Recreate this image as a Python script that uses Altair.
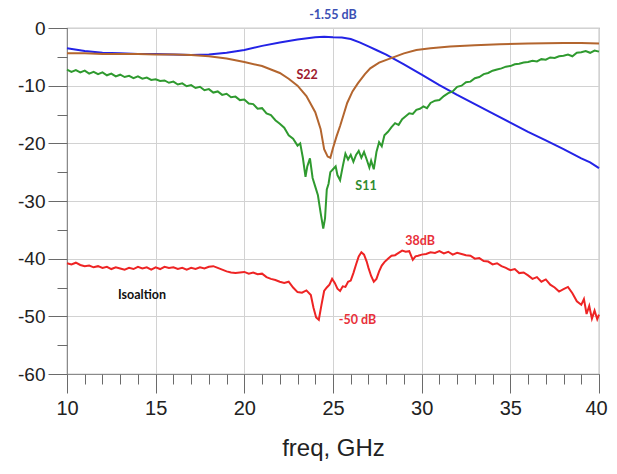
import altair as alt
import pandas as pd

# ---------------- data ----------------
s21_f = [10, 11, 12, 13, 14, 15, 16, 17, 18, 19, 20, 21, 22, 23, 24, 24.5, 25, 25.5,
         26, 26.5, 27, 27.5, 28, 29, 30, 31, 32, 33, 34, 35, 36, 37, 38, 39, 39.5, 40]
s21_v = [-3.5, -4.0, -4.3, -4.4, -4.5, -4.5, -4.6, -4.7, -4.6, -4.3, -3.8, -3.1, -2.5, -2.0, -1.6, -1.5, -1.6, -1.65,
         -1.9, -2.5, -3.2, -3.9, -4.6, -6.3, -8.1, -9.9, -11.6, -13.2, -14.8, -16.4, -18.0, -19.5, -21.0, -22.6, -23.3, -24.3]

s22_f = [10, 11, 12, 13, 14, 15, 16, 17, 18, 19, 20, 21, 21.5, 22, 22.5, 23, 23.5, 24, 24.3, 24.5,
         24.7, 24.85, 25.0, 25.2, 25.4, 25.6, 25.8, 26.1, 26.4, 26.8, 27.1, 27.6, 28.2, 29, 29.7,
         30.5, 31.6, 33, 34.4, 36, 38, 39, 40]
s22_v = [-4.4, -4.4, -4.5, -4.5, -4.5, -4.6, -4.6, -4.7, -4.9, -5.3, -5.9, -6.6, -7.2, -7.8, -8.8, -10.0, -11.8, -14.6, -17.5, -21.0,
         -22.3, -22.5, -20.8, -18.8, -17.0, -15.0, -13.0, -11.0, -9.6, -8.0, -7.0, -6.0, -5.3, -4.4, -3.8,
         -3.5, -3.2, -3.0, -2.8, -2.7, -2.6, -2.6, -2.7]

s11_f = [10.0, 10.25, 10.5, 10.75, 11.0, 11.25, 11.5, 11.75, 12.0, 12.25, 12.5, 12.75, 13.0, 13.25, 13.5, 13.75,
         14.0, 14.25, 14.5, 14.75, 15.0, 15.25, 15.5, 15.75, 16.0, 16.25, 16.5, 16.75, 17.0, 17.25, 17.5, 17.75,
         18.0, 18.25, 18.5, 18.75, 19.0, 19.25, 19.5, 19.75, 20.0, 20.25, 20.5, 20.75, 21.0, 21.25, 21.5, 21.75,
         22.0, 22.25, 22.5, 22.75, 23.0, 23.15, 23.3, 23.45, 23.55, 23.7, 23.85, 24.0, 24.15, 24.3, 24.45, 24.55,
         24.65, 24.75, 24.85, 25.0, 25.15, 25.25, 25.4, 25.55, 25.7, 25.85, 26.0, 26.15, 26.3, 26.45, 26.6, 26.75,
         26.9, 27.05, 27.15, 27.3, 27.45, 27.6, 27.75, 27.9, 28.1, 28.3, 28.5, 28.7, 28.9, 29.1, 29.3, 29.5,
         29.7, 29.9, 30.1, 30.3, 30.5, 30.75, 31.0, 31.25, 31.5, 31.75, 32.0, 32.25, 32.5, 32.75, 33.0, 33.25,
         33.5, 33.75, 34.0, 34.25, 34.5, 34.75, 35.0, 35.25, 35.5, 35.75, 36.0, 36.25, 36.5, 36.75, 37.0, 37.25,
         37.5, 37.75, 38.0, 38.25, 38.5, 38.75, 39.0, 39.25, 39.5, 39.75, 40.0]
s11_v = [-7.2, -7.6, -7.3, -7.7, -7.4, -7.9, -7.6, -8.0, -7.7, -8.2, -7.9, -8.4, -8.1, -8.5, -8.3, -8.7,
         -8.4, -8.8, -8.6, -9.0, -8.9, -9.2, -9.1, -9.5, -9.3, -9.8, -9.6, -10.1, -9.9, -10.4, -10.2, -10.8,
         -10.6, -11.2, -11.0, -11.6, -11.4, -12.0, -11.9, -12.5, -12.4, -13.1, -13.2, -14.0, -13.9, -14.8, -15.1, -16.0,
         -16.6, -17.3, -18.6, -19.2, -20.4, -20.0, -22.5, -25.8, -24.0, -22.6, -26.0, -27.5, -29.0, -32.0, -34.8, -33.0,
         -28.0, -27.0, -25.0, -24.5, -24.0, -25.5, -26.4, -24.0, -21.8, -22.8, -22.0, -23.2, -22.0, -21.3, -22.5, -21.5,
         -22.8, -24.2, -23.0, -24.5, -21.5, -19.8, -20.5, -18.6, -18.0, -17.2, -16.5, -16.8, -15.8, -15.3, -14.8, -14.9,
         -14.2, -14.0, -13.6, -13.9, -13.0, -12.6, -12.5, -11.8, -11.3, -11.0, -10.2, -10.0, -9.4, -9.3, -8.7, -8.5,
         -8.0, -7.8, -7.4, -7.2, -7.0, -6.7, -6.6, -6.3, -6.2, -6.0, -5.9, -5.7, -5.8, -5.4, -5.5, -5.1,
         -5.2, -4.9, -4.8, -4.6, -4.9, -4.3, -4.2, -4.0, -4.3, -3.9, -4.1]

iso_f = [10.0, 10.25, 10.5, 10.75, 11.0, 11.25, 11.5, 11.75, 12.0, 12.25, 12.5, 12.75, 13.0, 13.25, 13.5, 13.75,
         14.0, 14.25, 14.5, 14.75, 15.0, 15.25, 15.5, 15.75, 16.0, 16.25, 16.5, 16.75, 17.0, 17.25, 17.5, 17.75,
         18.0, 18.25, 18.5, 18.75, 19.0, 19.25, 19.5, 19.75, 20.0, 20.25, 20.5, 20.75, 21.0, 21.25, 21.5, 21.75,
         22.0, 22.25, 22.5, 22.75, 23.0, 23.25, 23.5, 23.75, 23.9, 24.05, 24.2, 24.35, 24.5, 24.65,
         24.8, 24.95, 25.1, 25.25, 25.4, 25.55, 25.7, 25.85, 26.0, 26.15, 26.3, 26.45, 26.6, 26.75,
         26.9, 27.0, 27.15, 27.3, 27.45, 27.6, 27.75, 27.9, 28.1, 28.3, 28.5, 28.7, 28.9, 29.1, 29.3, 29.5,
         29.65, 29.8, 30.0, 30.25, 30.5, 30.75, 31.0, 31.25, 31.5, 31.75, 32.0, 32.25, 32.5, 32.75, 33.0, 33.25,
         33.5, 33.75, 34.0, 34.25, 34.5, 34.75, 35.0, 35.25, 35.5, 35.75, 36.0, 36.25, 36.5, 36.75, 37.0, 37.25,
         37.5, 37.75, 38.0, 38.25, 38.5, 38.75, 39.0, 39.15, 39.3, 39.45, 39.6, 39.75, 39.9, 40.0]
iso_v = [-40.8, -41.0, -40.7, -41.1, -41.3, -41.2, -41.5, -41.3, -41.6, -41.4, -41.8, -41.5, -41.7, -41.9, -41.6, -41.8,
         -41.4, -41.7, -41.5, -41.9, -41.5, -41.8, -41.4, -41.6, -41.5, -41.8, -41.6, -41.9, -41.6, -41.8, -41.5, -41.7,
         -41.4, -41.3, -41.6, -41.9, -42.2, -42.4, -42.5, -42.4, -42.3, -42.6, -42.4, -42.7, -42.6, -43.2, -43.5, -43.7,
         -44.0, -44.2, -44.0, -45.0, -45.8, -45.9, -45.5, -46.3, -48.5, -50.2, -50.6, -48.0, -45.6, -45.0,
         -44.5, -43.5, -44.2, -45.2, -45.6, -44.8, -44.9, -44.0, -43.8, -42.5, -41.0, -39.6, -38.9, -39.3,
         -40.5, -41.6, -43.0, -44.0, -43.5, -42.2, -41.2, -40.6, -40.0, -39.5, -39.4, -39.0, -38.6, -38.8, -38.7, -40.2,
         -39.6, -39.5, -39.3, -39.2, -38.9, -39.0, -38.7, -39.1, -38.8, -39.3, -39.0, -39.2, -39.4, -39.5, -40.0, -39.9,
         -40.4, -40.5, -41.0, -40.8, -41.3, -41.6, -42.0, -41.8, -42.5, -42.4, -42.9, -43.5, -43.2, -44.0, -43.6, -44.5,
         -45.0, -45.7, -45.3, -44.9, -46.0, -47.4, -48.0, -47.0, -49.6, -48.2, -50.4, -49.0, -50.5, -49.7]

series_names = ["S11", "S22", "S21", "Isolation"]
series_colors = ["#2f9a2f", "#b3652e", "#2323e6", "#ee2424"]

ann_text = ["-1.55 dB", "S22", "S11", "Isoaltion", "38dB", "-50 dB"]
ann_f = [25.0, 23.54, 26.86, 14.23, 29.91, 26.38]
ann_v = [2.2, -8.15, -27.4, -46.3, -36.9, -50.6]
ann_color = ["#3c50b4", "#9e1a2e", "#2e8b2e", "#111111", "#e8303a", "#e8303a"]

x_major = [10, 15, 20, 25, 30, 35, 40]
x_minor = list(range(10, 41))
y_major = [0, -10, -20, -30, -40, -50, -60]
y_minor = list(range(-60, 1, 5))

# ---------------- build tables ----------------
rows = []
for name, fs, vs in [("S21", s21_f, s21_v), ("S22", s22_f, s22_v),
                     ("S11", s11_f, s11_v), ("Isolation", iso_f, iso_v)]:
    for i, (f, v) in enumerate(zip(fs, vs)):
        rows.append({"series": name, "freq": f, "dB": v, "order": i})
df = pd.DataFrame(rows)
ann = pd.DataFrame({"text": ann_text, "freq": ann_f, "dB": ann_v, "color": ann_color})

xscale = alt.Scale(domain=[10, 40], nice=False, zero=False)
yscale = alt.Scale(domain=[-60, 0], nice=False, zero=False)

axis_common = dict(domainColor="#8a8a8a", tickColor="#6a6a6a", labelColor="#222222",
                   labelFont="Liberation Sans", titleFont="Liberation Sans",
                   labelExpr="toString(datum.value)")

x_major_axis = alt.Axis(values=x_major, tickSize=19, labelFontSize=20, labelPadding=5,
                        labelOffset=alt.ExprRef("datum.value == 40 ? -3 : 0"),
                        grid=True, gridColor="#d2d2d2", orient="bottom", title="freq, GHz",
                        titleFontSize=24, titleFontWeight="normal", titleColor="#222222",
                        titlePadding=18, labelFlush=False, **axis_common)
y_major_axis = alt.Axis(values=y_major, tickSize=19, labelFontSize=19, labelPadding=3,
                        grid=True, gridColor="#d2d2d2", orient="left", title=None, **axis_common)
x_minor_axis = alt.Axis(values=x_minor, tickSize=10, labels=False, grid=False, orient="bottom",
                        title=None, domain=False, tickColor="#6a6a6a")
y_minor_axis = alt.Axis(values=y_minor, tickSize=10, labels=False, grid=False, orient="left",
                        title=None, domain=False, tickColor="#6a6a6a")

base = alt.Chart(df)
lines = base.mark_line(strokeWidth=2).encode(
    x=alt.X("freq:Q", scale=xscale, axis=x_major_axis),
    y=alt.Y("dB:Q", scale=yscale, axis=y_major_axis),
    color=alt.Color("series:N", scale=alt.Scale(domain=series_names, range=series_colors), legend=None),
    detail="series:N",
    order="order:Q",
)
minor = base.mark_line(strokeOpacity=0).encode(
    x=alt.X("freq:Q", scale=xscale, axis=x_minor_axis),
    y=alt.Y("dB:Q", scale=yscale, axis=y_minor_axis),
    detail="series:N",
)
texts = alt.Chart(ann).mark_text(font="Lato", fontWeight="bold", fontSize=12.5).encode(
    x=alt.X("freq:Q", scale=xscale, axis=None),
    y=alt.Y("dB:Q", scale=yscale, axis=None),
    text="text:N",
    color=alt.Color("color:N", scale=None),
)

chart = alt.layer(lines, minor, texts).resolve_axis(x="independent", y="independent").properties(
    width=532, height=346,
    autosize=alt.AutoSizeParams(type="none"),
    padding={"left": 59, "top": 20, "right": 10, "bottom": 90},
    background="white",
).configure_view(stroke="#9a9a9a", strokeWidth=1.2)

chart.save("out.html", embed_options={"renderer": "svg", "actions": False})
